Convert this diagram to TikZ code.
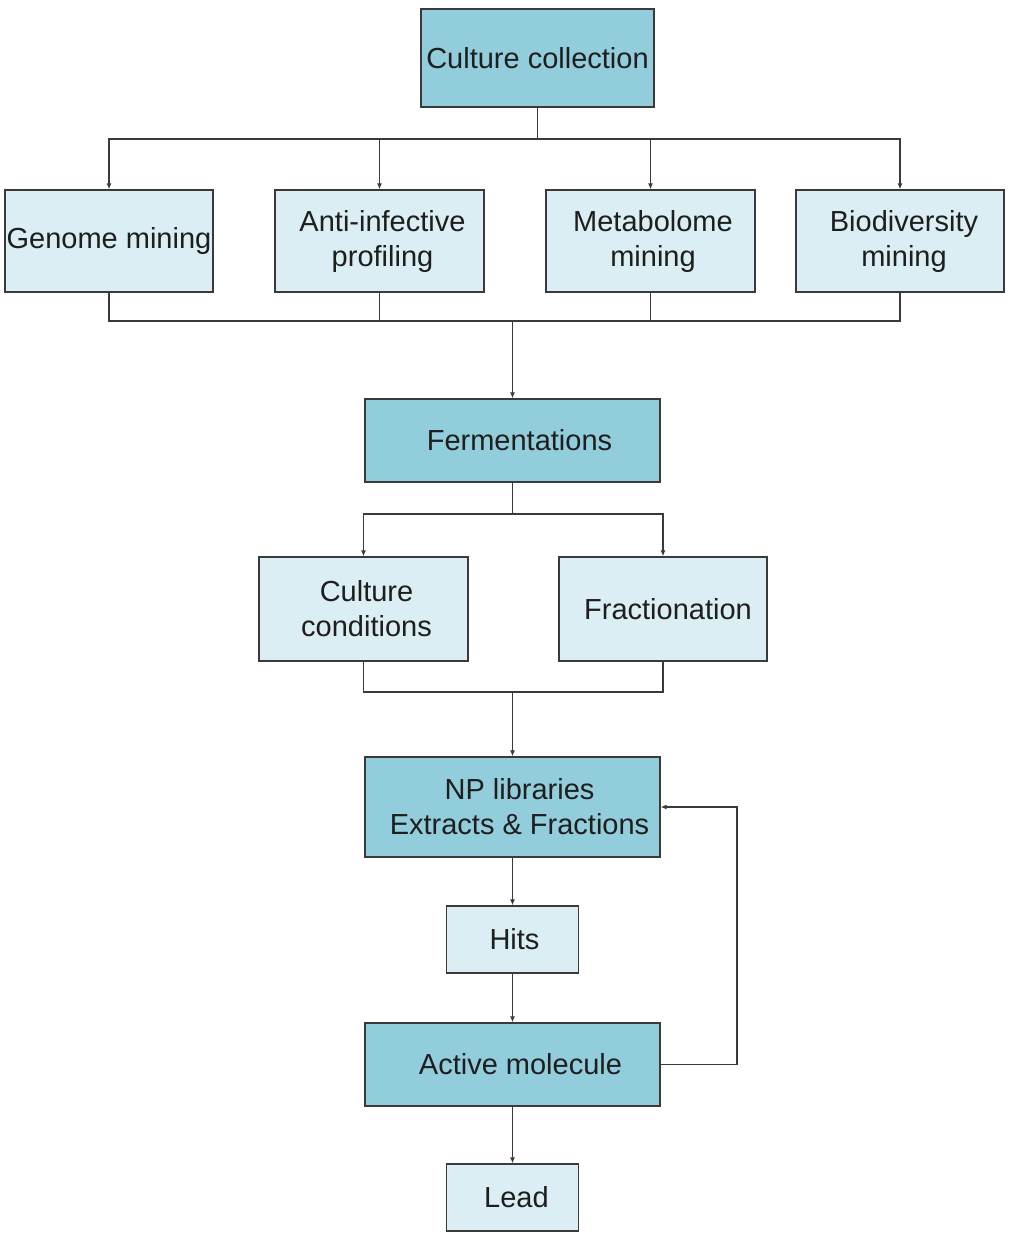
\documentclass[tikz,border=0pt]{standalone}
\usepackage{fontspec}
\setmainfont{Liberation Sans}
\usetikzlibrary{arrows.meta}
\definecolor{darkfill}{HTML}{92CDDC}
\definecolor{lightfill}{HTML}{DAEEF3}
\definecolor{edge}{HTML}{3A3A3A}
\definecolor{txt}{HTML}{1E1E1E}
\begin{document}
\begin{tikzpicture}[x=1pt,y=-1pt,
  box/.style={draw=edge,line width=1.3pt,inner sep=0pt,align=center,text=txt,
    font=\fontsize{29}{35}\selectfont},
  dbox/.style={box,fill=darkfill},
  lbox/.style={box,fill=lightfill},
  conn/.style={draw=edge,line width=1.4pt},
  arr/.style={conn,-{Latex[length=6pt,width=5pt]}}]
\useasboundingbox (0,0) rectangle (1011,1256);
% boxes
\node[dbox,minimum width=233pt,minimum height=98pt] (cc) at (537.5,58) {Culture collection};
\node[lbox,minimum width=208pt,minimum height=102pt] (gm) at (109,241) {Genome mining};
\node[lbox,minimum width=209pt,minimum height=102pt] (ai) at (379.5,241) {\hspace*{6pt}Anti-infective\\\hspace*{6pt}profiling};
\node[lbox,minimum width=209pt,minimum height=102pt] (mm) at (650.5,241) {\hspace*{5pt}Metabolome\\\hspace*{5pt}mining};
\node[lbox,minimum width=208pt,minimum height=102pt] (bm) at (900,241) {\hspace*{8pt}Biodiversity\\\hspace*{8pt}mining};
\node[dbox,minimum width=295pt,minimum height=83pt] (fe) at (512.5,440.5) {\hspace*{14pt}Fermentations};
\node[lbox,minimum width=209pt,minimum height=104pt] (cu) at (363.5,609) {\hspace*{6pt}Culture\\\hspace*{6pt}conditions};
\node[lbox,minimum width=208pt,minimum height=104pt] (fr) at (663,609) {\hspace*{10pt}Fractionation};
\node[dbox,minimum width=295pt,minimum height=100pt] (np) at (512.5,807) {\hspace*{14pt}NP libraries\\\hspace*{14pt}Extracts \& Fractions};
\node[lbox,minimum width=132pt,minimum height=67pt] (hi) at (512.5,939.5) {\hspace*{4pt}Hits};
\node[dbox,minimum width=295pt,minimum height=83pt] (am) at (512.5,1064.5) {\hspace*{16pt}Active molecule};
\node[lbox,minimum width=132pt,minimum height=67pt] (le) at (512.5,1197.5) {\hspace*{8pt}Lead};
% junctions
\coordinate (j1) at (537.5,139);
\coordinate (j2) at (512.5,321);
\coordinate (j3) at (512.5,514);
\coordinate (j4) at (512.5,692);
\coordinate (fb) at (737,0);
% connectors
\draw[conn] (cc.south) -- (j1);
\draw[arr] (j1) -| (gm.north);
\draw[arr] (j1) -| (ai.north);
\draw[arr] (j1) -| (mm.north);
\draw[arr] (j1) -| (bm.north);
\draw[conn] (gm.south) |- (j2);
\draw[conn] (ai.south) |- (j2);
\draw[conn] (mm.south) |- (j2);
\draw[conn] (bm.south) |- (j2);
\draw[arr] (j2) -- (fe.north);
\draw[conn] (fe.south) -- (j3);
\draw[arr] (j3) -| (cu.north);
\draw[arr] (j3) -| (fr.north);
\draw[conn] (cu.south) |- (j4);
\draw[conn] (fr.south) |- (j4);
\draw[arr] (j4) -- (np.north);
\draw[arr] (np.south) -- (hi.north);
\draw[arr] (hi.south) -- (am.north);
\draw[arr] (am.south) -- (le.north);
\draw[arr] (am.east) -- (am.east -| fb) |- (np.east);
\end{tikzpicture}
\end{document}
